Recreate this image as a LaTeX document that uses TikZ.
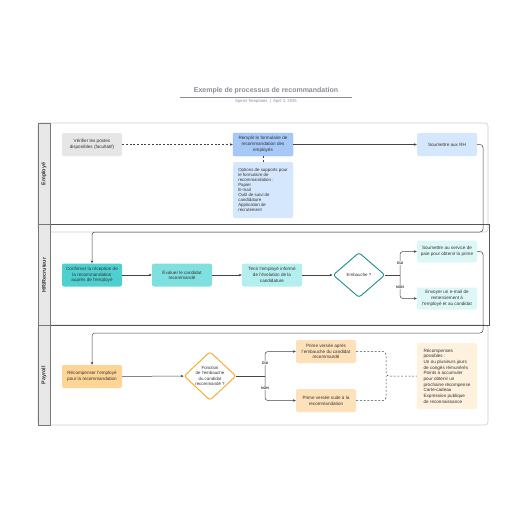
\documentclass[tikz,border=0pt]{standalone}
\usepackage{fontspec}
\setmainfont{Liberation Sans}
\usetikzlibrary{shapes.geometric,arrows.meta,calc}
\definecolor{txt}{HTML}{333333}
\definecolor{ttl}{HTML}{8C8C99}
\definecolor{lanelight}{HTML}{CCCCCC}
\definecolor{lanedark}{HTML}{555555}
\definecolor{headfill}{HTML}{E8E8E8}
\definecolor{cgrey}{HTML}{E6E6E6}
\definecolor{cblue}{HTML}{A6C9F7}
\definecolor{cblueb}{HTML}{8DB8F2}
\definecolor{cbluel}{HTML}{D5E7FD}
\definecolor{tealA}{HTML}{4FD0D0}
\definecolor{tealB}{HTML}{80E0E0}
\definecolor{tealC}{HTML}{B4EEEE}
\definecolor{tealD}{HTML}{DDF7F7}
\definecolor{tealE}{HTML}{1F8C8C}
\definecolor{orA}{HTML}{FFD596}
\definecolor{orB}{HTML}{FDE1BA}
\definecolor{orC}{HTML}{FEF1DE}
\definecolor{orE}{HTML}{F5A623}
\definecolor{conn}{HTML}{444444}
\tikzset{
  boxnode/.style={rectangle, rounded corners=2pt, minimum width=60pt, minimum height=23pt,
    inner sep=0pt, align=center, text=txt,
    font=\fontsize{4.6}{5.7}\selectfont},
  notenode/.style={boxnode, align=left},
  dianode/.style={diamond, rounded corners=2.5pt, minimum width=52pt, minimum height=45pt,
    inner sep=0pt, align=center, text=txt, fill=white, line width=0.9pt,
    font=\fontsize{4.4}{5.4}\selectfont},
  arrowline/.style={draw=conn, line width=0.5pt, rounded corners=3pt,
    -{Stealth[length=3pt,width=2.6pt]}},
  plainline/.style={draw=conn, line width=0.5pt, rounded corners=3pt},
  dashline/.style={draw=conn, line width=0.5pt, dash pattern=on 2pt off 1.7pt, rounded corners=3pt},
  branchlbl/.style={fill=white, inner sep=0.6pt, text=txt, font=\fontsize{3.6}{4}\selectfont\bfseries},
  lanelbl/.style={rotate=90, text=txt, font=\fontsize{5.4}{6}\selectfont\bfseries},
}
\begin{document}
\begin{tikzpicture}[x=1pt,y=-1pt]
\useasboundingbox (0,0) rectangle (516,516);
\fill[white] (0,0) rectangle (516,516);

% title
\node[text=ttl, font=\fontsize{7}{8}\selectfont\bfseries] (title) at (266,91) {Exemple de processus de recommandation};
\draw[ttl, line width=0.5pt] (180,97.5) -- (352,97.5);
\node[text=ttl, font=\fontsize{4.2}{5}\selectfont] (subtitle) at (266,101.5) {Spinet Templates \;|\; April 3, 2025};

% lanes
\draw[lanelight, line width=0.6pt, rounded corners=3pt] (38,123) rectangle (488,232);
\draw[lanelight, line width=0.6pt, rounded corners=3pt] (38,325) rectangle (488,425);
\draw[lanedark, line width=0.6pt] (38,224) rectangle (489,325);
\filldraw[fill=headfill, draw=lanedark!80, line width=0.5pt] (38,123) rectangle (50,224);
\filldraw[fill=headfill, draw=lanedark!80, line width=0.5pt] (38,224) rectangle (50,325);
\filldraw[fill=headfill, draw=lanedark!80, line width=0.5pt] (38,325) rectangle (50,425);
\node[lanelbl] (l1) at (44,174) {Employé};
\node[lanelbl] (l2) at (44,275) {HR/Recruteur};
\node[lanelbl] (l3) at (44,375) {Payroll};

% lane 1
\node[boxnode, fill=cgrey] (verif) at (92,144.5) {Vérifier les postes\\disponibles (facultatif)};
\node[boxnode, fill=cblue, draw=cblueb, line width=0.4pt] (remplir) at (263,144.5) {Remplir le formulaire de\\recommandation des\\employés};
\node[notenode, fill=cbluel, minimum height=56pt, font=\fontsize{4.4}{5.1}\selectfont] (options) at (263,190) {Options de supports pour\\le formulaire de\\recommandation :\\Papier\\E-mail\\Outil de suivi de\\candidature\\Application de\\recrutement};
\node[boxnode, fill=cbluel] (soumrh) at (447,144.5) {Soumettre aux RH};

% lane 2
\node[boxnode, fill=tealA] (confirmer) at (92,275) {Confirmer la réception de\\la recommandation\\auprès de l'employé};
\node[boxnode, fill=tealB] (evaluer) at (182,275) {Évaluer le candidat\\recommandé};
\node[boxnode, fill=tealC] (tenir) at (272,275) {Tenir l'employé informé\\de l'évolution de la\\candidature};
\node[dianode, draw=tealE] (embauche) at (359,275) {Embauche ?};
\node[boxnode, fill=tealD, minimum height=22pt] (soumpaie) at (447,251.5) {Soumettre au service de\\paie pour obtenir la prime};
\node[boxnode, fill=tealD, minimum height=22pt] (envoyer) at (447,298.5) {Envoyer un e-mail de\\remerciement à\\l'employé et au candidat};

% lane 3
\node[boxnode, fill=orA] (recomp) at (92,376.5) {Récompenser l'employé\\pour la recommandation};
\node[dianode, draw=orE] (fonction) at (210,376) {Fonction\\de l'embauche\\du candidat\\recommandé ?};
\node[boxnode, fill=orB] (prime1) at (326,351.5) {Prime versée après\\l'embauche du candidat\\recommandé};
\node[boxnode, fill=orB] (prime2) at (326,400.5) {Prime versée suite à la\\recommandation};
\node[notenode, fill=orC, minimum height=66pt] (recnote) at (447,376) {Récompenses\\possibles :\\Un ou plusieurs jours\\de congés rémunérés\\Points à accumuler\\pour obtenir un\\prochaine récompense\\Carte-cadeau\\Expression publique\\de reconnaissance};

% connectors lane 1
\draw[dashline, -{Stealth[length=3pt,width=2.6pt]}] (verif) -- (remplir);
\draw[dashline] (remplir) -- (options);
\draw[arrowline] (remplir) -- (soumrh);
\coordinate (t1) at (483,232);
\draw[arrowline] (soumrh.east) -| (t1) -| (confirmer.north);

% connectors lane 2
\draw[arrowline] (confirmer) -- (evaluer);
\draw[arrowline] (evaluer) -- (tenir);
\draw[arrowline] (tenir) -- (embauche);
\coordinate (b1) at (400,275);
\draw[plainline] (embauche.east) -- (b1);
\draw[arrowline] (b1) |- (soumpaie.west);
\draw[arrowline] (b1) |- (envoyer.west);
\node[branchlbl] (oui1) at (400,263) {OUI};
\node[branchlbl] (non1) at (400,287) {NON};
\coordinate (t2) at (483,333);
\draw[arrowline] (soumpaie.east) -| (t2) -| (recomp.north);

% connectors lane 3
\draw[arrowline] (recomp) -- (fonction);
\coordinate (b2) at (265,376);
\draw[plainline] (fonction.east) -- (b2);
\draw[arrowline] (b2) |- (prime1.west);
\draw[arrowline] (b2) |- (prime2.west);
\node[branchlbl] (oui2) at (265,363) {OUI};
\node[branchlbl] (non2) at (265,388) {NON};
\coordinate (m) at (386,376);
\draw[dashline] (prime1.east) -| (m) -- (recnote.west);
\draw[dashline] (prime2.east) -| (m);
\end{tikzpicture}
\end{document}
